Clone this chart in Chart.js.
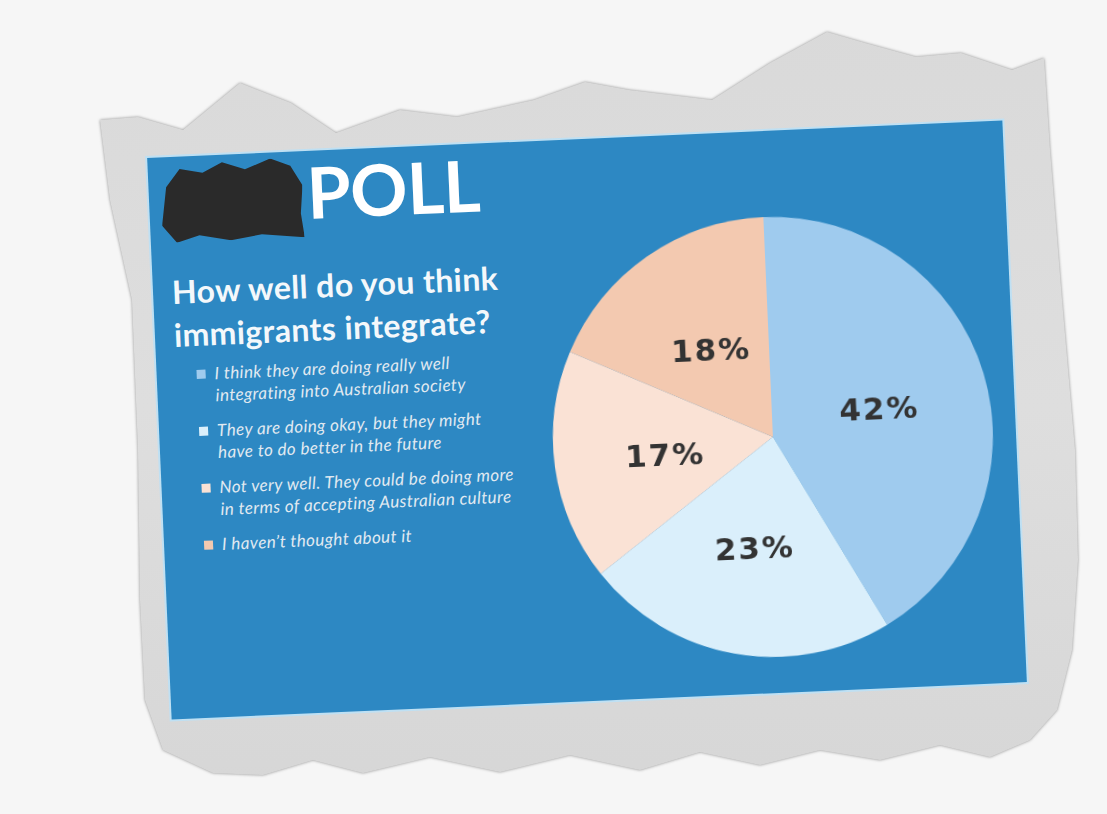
<!DOCTYPE html>
<html>
<head>
<meta charset="utf-8">
<script src="https://cdn.jsdelivr.net/npm/chart.js@4.4.1/dist/chart.umd.min.js"></script>
<style>
  html, body { margin: 0; padding: 0; }
  body {
    width: 1107px; height: 814px; overflow: hidden; position: relative;
    background: #f6f6f6;
    font-family: Lato, "Open Sans", sans-serif;
  }
  .paperWrap { position: absolute; inset: 0; filter: drop-shadow(0 0 1.5px rgba(60,60,60,0.55)); }
  .paper {
    position: absolute; inset: 0;
    background: linear-gradient(180deg, #d9d9d9 0%, #dedede 50%, #d6d6d6 100%);
    clip-path: polygon(100px 120px, 138px 117px, 183px 130px, 240px 83px, 291px 103px, 336px 133px,
      400px 110px, 457px 117px, 534px 100px, 585px 82px, 629px 90px, 712px 100px, 770px 63px,
      827px 32px, 865px 43px, 916px 57px, 961px 53px, 1012px 70px, 1044px 58px, 1050px 150px,
      1062px 300px, 1075px 450px, 1078px 560px, 1072px 650px, 1057px 710px, 1030px 740px,
      990px 757px, 940px 745px, 880px 760px, 820px 750px, 760px 765px, 700px 752px, 640px 770px,
      570px 755px, 500px 772px, 430px 757px, 363px 773px, 313px 760px, 263px 775px, 213px 773px,
      163px 750px, 145px 700px, 140px 600px, 138px 450px, 132px 300px, 110px 200px);
  }
  #panel {
    position: absolute; left: 159px; top: 139px; width: 856px; height: 562px;
    background: #2d88c3;
    box-shadow: 0 0 0 2px #bfe0f3;
    transform: rotate(-2.5deg);
  }
  .blot {
    position: absolute; left: 12px; top: 6px; width: 142px; height: 80px;
    background: #2a2a2a;
    clip-path: polygon(4% 30%, 14% 8%, 30% 14%, 44% 2%, 60% 12%, 78% 0%, 92% 10%, 100% 35%,
      98% 70%, 100% 100%, 70% 94%, 48% 100%, 26% 92%, 10% 100%, 0% 78%);
  }
  .poll {
    position: absolute; left: 158px; top: 5px;
    font: bold 71px/71px Lato, sans-serif; color: #ffffff; letter-spacing: -0.5px;
  }
  .question {
    position: absolute; left: 19px; top: 113px;
    font: bold 32px/43px Lato, sans-serif; color: #f4f8fb; letter-spacing: 0.4px;
  }
  #legend {
    position: absolute; left: 38px; top: 207px; margin: 0; padding: 0; list-style: none;
    font: italic 17px/22px Lato, sans-serif; color: #e1eaf1; letter-spacing: 0.4px;
  }
  #legend li { position: relative; padding-left: 20px; margin-bottom: 13px; }
  #legend li span.box {
    position: absolute; left: 2px; top: 7px; width: 9px; height: 9px;
  }
  #chartBox { position: absolute; left: 373px; top: 66px; width: 480px; height: 480px; }
</style>
</head>
<body>
<div class="paperWrap"><div class="paper"></div></div>
<div id="panel">
  <div class="blot"></div>
  <div class="poll">POLL</div>
  <div class="question">How well do you think<br>immigrants integrate?</div>
  <ul id="legend"></ul>
  <div id="chartBox"><canvas id="pollChart" width="480" height="480"></canvas></div>
</div>

<script>
// answers, as printed (line breaks as in the clipping)
const answerLines = [
  ["I think they are doing really well", "integrating into Australian society"],
  ["They are doing okay, but they might", "have to do better in the future"],
  ["Not very well. They could be doing more", "in terms of accepting Australian culture"],
  ["I haven\u2019t thought  about it"]
];
const shares = [42, 23, 17, 18];
const sliceColors = ["#9fcbee", "#daeffb", "#fae2d5", "#f3c9b0"];

const answers = answerLines.map(l => l.join(" "));

// legend
const legend = document.getElementById("legend");
answerLines.forEach((lines, i) => {
  const li = document.createElement("li");
  const box = document.createElement("span");
  box.className = "box";
  box.style.background = sliceColors[i];
  li.appendChild(box);
  li.appendChild(document.createTextNode(lines[0]));
  for (let k = 1; k < lines.length; k++) {
    li.appendChild(document.createElement("br"));
    li.appendChild(document.createTextNode(lines[k]));
  }
  legend.appendChild(li);
});

const percentLabels = {
  id: "percentLabels",
  afterDatasetsDraw(chart) {
    const { ctx } = chart;
    chart.getDatasetMeta(0).data.forEach((arc, i) => {
      const p = arc.getCenterPoint();
      ctx.save();
      ctx.fillStyle = "#333333";
      ctx.font = "bold 31px 'DejaVu Sans'";
      ctx.letterSpacing = "2px";
      ctx.textAlign = "center";
      ctx.textBaseline = "middle";
      ctx.fillText(shares[i] + "%", p.x + 1, p.y + 6);
      ctx.restore();
    });
  }
};

new Chart(document.getElementById("pollChart"), {
  type: "pie",
  data: {
    labels: answers,
    datasets: [{
      data: shares,
      backgroundColor: sliceColors,
      borderWidth: 0
    }]
  },
  options: {
    responsive: false,
    animation: false,
    layout: { padding: 20 },
    plugins: { legend: { display: false }, tooltip: { enabled: false } }
  },
  plugins: [percentLabels]
});
</script>
</body>
</html>
